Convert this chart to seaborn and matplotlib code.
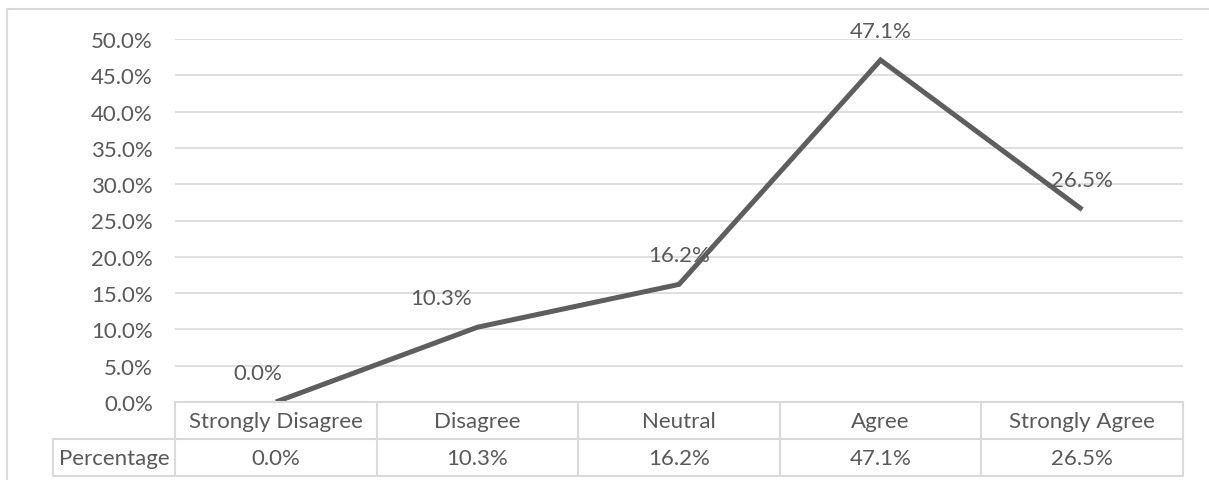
import matplotlib
matplotlib.use("Agg")
import matplotlib.pyplot as plt
from matplotlib.lines import Line2D
from matplotlib.patches import Rectangle
import seaborn as sns
import pandas as pd

categories = ["Strongly Disagree", "Disagree", "Neutral", "Agree", "Strongly Agree"]
percentages = [0.0, 10.3, 16.2, 47.1, 26.5]
series_name = "Percentage"
y_ticks = [0, 5, 10, 15, 20, 25, 30, 35, 40, 45, 50]

sns.set_theme(style="white")
plt.rcParams["font.family"] = ["Lato", "DejaVu Sans"]

W, H = 1209, 481
TEXT = "#595959"
GRID = "#d9d9d9"
LINE = "#5e5e5e"
FS = 16

fig = plt.figure(figsize=(W / 100, H / 100), dpi=100)

# outer chart frame
fig.add_artist(Rectangle((7 / W, -0.1), 1.2, (H - 10) / H + 0.1,
                         transform=fig.transFigure, fill=False,
                         edgecolor=GRID, linewidth=1.5))

# plot area in pixel positions
x0, x1 = 175, 1183
y_top, y_bot = 40, 403
ax = fig.add_axes([x0 / W, (H - y_bot) / H, (x1 - x0) / W, (y_bot - y_top) / H])

df = pd.DataFrame({"category": categories, "value": percentages})
sns.lineplot(data=df, x="category", y="value", sort=False, ax=ax,
             color=LINE, linewidth=3.6, solid_capstyle="butt", solid_joinstyle="miter",
             zorder=3)

n = len(categories)
ax.set_xlim(-0.5, n - 0.5)
ax.set_ylim(0, 50)
ax.set_yticks(y_ticks)
ax.set_yticklabels([f"{v:.1f}%" for v in y_ticks], color=TEXT, fontsize=FS)
ax.tick_params(axis="y", length=0, pad=16)
ax.set_xticks([])
ax.set_xlabel("")
ax.set_ylabel("")
for s in ax.spines.values():
    s.set_visible(False)
ax.grid(False)
for v in y_ticks:
    ax.axhline(v, color=GRID, linewidth=1.2, zorder=1)

# data labels above points
label_dx = [-0.09, -0.18, 0.0, 0.0, 0.0]
for i, v in enumerate(percentages):
    ax.annotate(f"{v:.1f}%", (i + label_dx[i], v), xytext=(0, 14),
                textcoords="offset points", ha="center", va="bottom",
                color=TEXT, fontsize=FS, zorder=4)

# data table below the plot
tab = fig.add_axes([0, 0, 1, 1])
tab.set_xlim(0, W)
tab.set_ylim(H, 0)
tab.axis("off")
tab.patch.set_alpha(0)

row1_top, row_mid, row_bot = 403, 440, 477
hdr_left = 53
col_w = (x1 - x0) / n
lw = 1.5
# horizontal rules
tab.add_line(Line2D([x0, x1], [row1_top, row1_top], color=GRID, lw=lw))
tab.add_line(Line2D([hdr_left, x1], [row_mid, row_mid], color=GRID, lw=lw))
tab.add_line(Line2D([hdr_left, x1], [row_bot, row_bot], color=GRID, lw=lw))
# vertical rules
tab.add_line(Line2D([hdr_left, hdr_left], [row_mid, row_bot], color=GRID, lw=lw))
for k in range(n + 1):
    xv = x0 + k * col_w
    tab.add_line(Line2D([xv, xv], [row1_top, row_bot], color=GRID, lw=lw))

for k, (cat, v) in enumerate(zip(categories, percentages)):
    cx = x0 + (k + 0.5) * col_w
    tab.text(cx, (row1_top + row_mid) / 2 + 1, cat, ha="center", va="center",
             color=TEXT, fontsize=FS)
    tab.text(cx, (row_mid + row_bot) / 2 + 1, f"{v:.1f}%", ha="center", va="center",
             color=TEXT, fontsize=FS)
tab.text((hdr_left + x0) / 2, (row_mid + row_bot) / 2 + 1, series_name,
         ha="center", va="center", color=TEXT, fontsize=FS)

fig.savefig("out.png", dpi=100, facecolor="white")
